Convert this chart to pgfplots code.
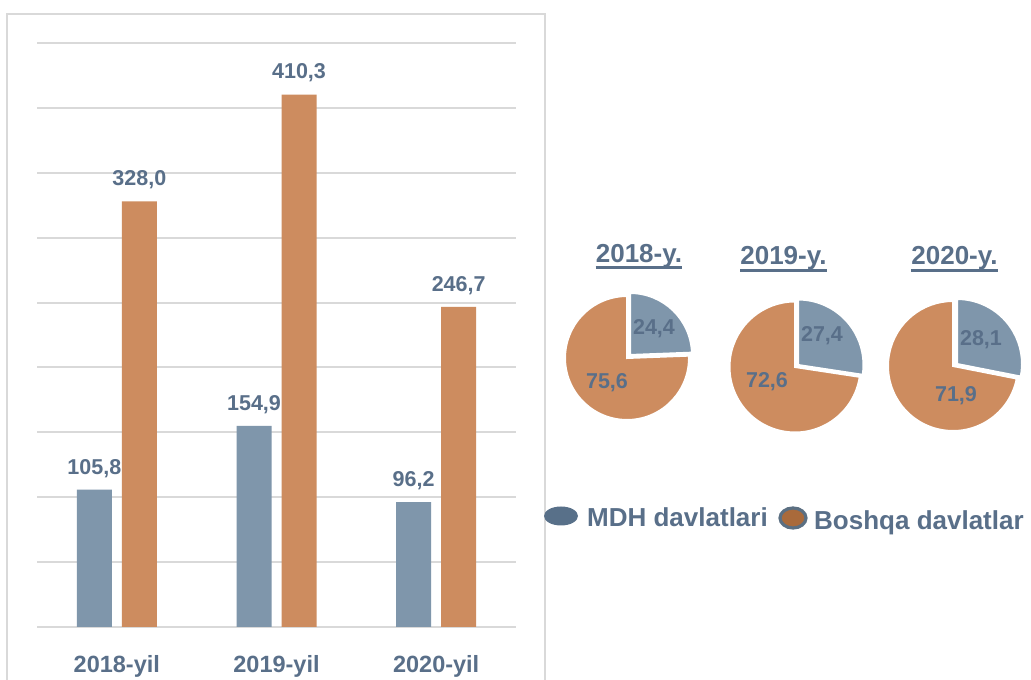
\documentclass[border=0pt]{standalone}
\usepackage{fontspec}
\setmainfont{Liberation Sans}
\usepackage{pgfplots}
\pgfplotsset{compat=1.18}
\definecolor{barblue}{RGB}{127,150,171}
\definecolor{barorange}{RGB}{205,140,95}
\definecolor{txt}{RGB}{89,111,137}
\definecolor{gridc}{RGB}{217,217,217}
\definecolor{legblue}{RGB}{88,112,137}
\definecolor{legorange}{RGB}{169,106,59}
\definecolor{legring}{RGB}{91,111,130}
\begin{document}
\begin{tikzpicture}[x=1pt,y=1pt]
\useasboundingbox (0,0) rectangle (1031,680);
\fill[white] (0,0) rectangle (1031,680);
\draw[gridc, line width=2pt] (7,-10) -- (7,666) -- (545,666) -- (545,-10);
\begin{axis}[at={(37pt,53pt)}, anchor=south west, scale only axis, width=479pt, height=584pt,
 ybar=10pt, bar width=35pt, ymin=0, ymax=450, xmin=-0.5, xmax=2.5,
 ytick={0,50,...,450}, yticklabels={}, ymajorgrids, grid style={draw=gridc, line width=2pt},
 axis line style={draw=none}, major tick style={draw=none},
 xtick=data, xticklabels={2018-yil,2019-yil,2020-yil},
 xticklabel style={font=\fontsize{23.5}{28}\selectfont\bfseries, text=txt, anchor=base, yshift=-41pt},
 nodes near coords={\pgfmathprintnumber[fixed,fixed zerofill,precision=1,use comma,assume math mode=true]{\pgfplotspointmeta}},
 nodes near coords style={font=\fontsize{21.5}{26}\selectfont\bfseries, text=txt, inner sep=0pt, anchor=south, yshift=12pt},
 ]
\addplot[fill=barblue, draw=none] coordinates {(0,105.8) (1,154.9) (2,96.2)};
\addplot[fill=barorange, draw=none] coordinates {(0,328.0) (1,410.3) (2,246.7)};
\end{axis}
\begin{axis}[at={(0pt,0pt)}, anchor=south west, scale only axis, width=1031pt, height=680pt,
 xmin=0, xmax=1031, ymin=0, ymax=680, hide axis, clip=false]
% 2018: MDH 24.4, other 75.6
\fill[barorange, draw=white, line width=2pt] (axis cs:627,322) -- ++({90-3.6*24.4}:62) arc[start angle={90-3.6*24.4}, end angle=-270, radius=62] -- cycle;
\fill[barblue, draw=white, line width=2pt] (axis cs:630,325) -- ++(90:62) arc[start angle=90, end angle={90-3.6*24.4}, radius=62] -- cycle;
% 2019: MDH 27.4, other 72.6
\fill[barorange, draw=white, line width=2pt] (axis cs:795,313) -- ++({90-3.6*27.4}:65.5) arc[start angle={90-3.6*27.4}, end angle=-270, radius=65.5] -- cycle;
\fill[barblue, draw=white, line width=2pt] (axis cs:798,315) -- ++(90:65.5) arc[start angle=90, end angle={90-3.6*27.4}, radius=65.5] -- cycle;
% 2020: MDH 28.1, other 71.9
\fill[barorange, draw=white, line width=2pt] (axis cs:953,314) -- ++({90-3.6*28.1}:65) arc[start angle={90-3.6*28.1}, end angle=-270, radius=65] -- cycle;
\fill[barblue, draw=white, line width=2pt] (axis cs:957,316) -- ++(90:65) arc[start angle=90, end angle={90-3.6*28.1}, radius=65] -- cycle;
\end{axis}
\begin{scope}[every node/.style={text=txt, font=\fontsize{21.5}{25}\selectfont\bfseries, inner sep=0pt}]
\node at (654,351) {24,4};
\node at (607,297) {75,6};
\node at (822,344) {27,4};
\node at (767,298) {72,6};
\node at (981,340) {28,1};
\node at (956,284) {71,9};
\end{scope}
\begin{scope}[every node/.style={text=txt, font=\fontsize{26}{30}\selectfont\bfseries, inner sep=0pt}]
\node[anchor=base] (t1) at (639,417) {2018-y.};
\node[anchor=base] (t2) at (783.5,415) {2019-y.};
\node[anchor=base] (t3) at (954.5,415) {2020-y.};
\draw[txt, line width=2.8pt] ([yshift=-4.5pt]t1.base west) -- ([yshift=-4.5pt]t1.base east);
\draw[txt, line width=2.8pt] ([yshift=-5.5pt]t2.base west) -- ([yshift=-5.5pt]t2.base east);
\draw[txt, line width=2.8pt] ([yshift=-5.5pt]t3.base west) -- ([yshift=-5.5pt]t3.base east);
\fill[legblue] (561,164) ellipse [x radius=17, y radius=9.5];
\node[anchor=base west] at (587,153) {MDH davlatlari};
\filldraw[fill=legorange, draw=legring, line width=3.2pt] (793,162) ellipse [x radius=13, y radius=10];
\node[anchor=base west] at (814,150) {Boshqa davlatlar};
\end{scope}
\end{tikzpicture}
\end{document}
